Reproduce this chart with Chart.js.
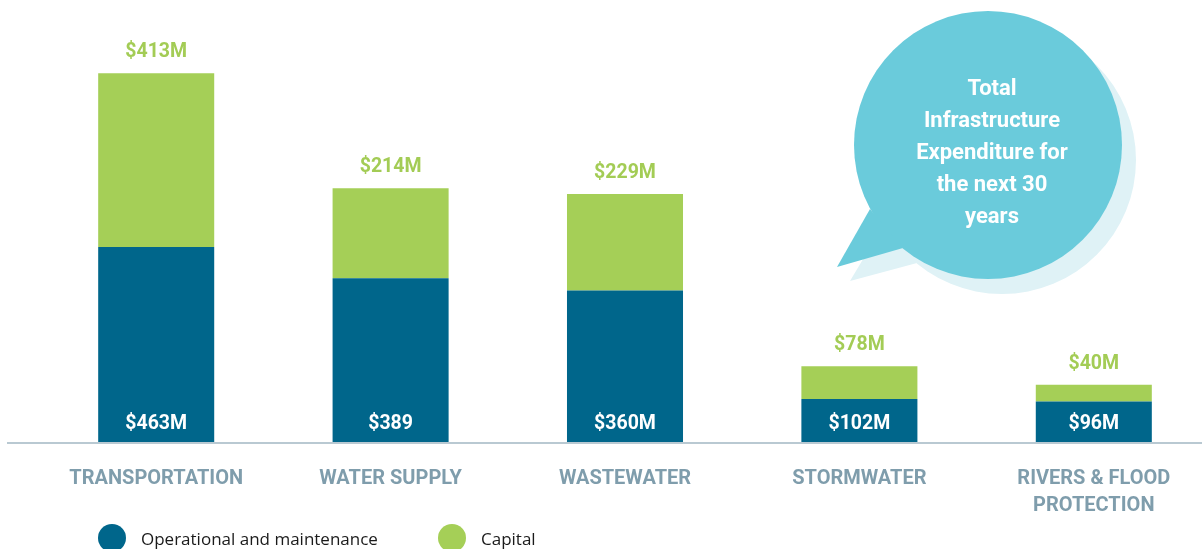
<!DOCTYPE html>
<html>
<head>
<meta charset="utf-8">
<script src="https://cdn.jsdelivr.net/npm/chart.js@4.4.0/dist/chart.umd.min.js"></script>
<style>
html,body{margin:0;padding:0;background:#fff;overflow:hidden;}
#wrap{width:1202px;height:549px;position:relative;overflow:hidden;}
</style>
</head>
<body>
<div id="wrap"><canvas id="c" width="1211" height="549"></canvas></div>
<script>
const categories = ['TRANSPORTATION', 'WATER SUPPLY', 'WASTEWATER', 'STORMWATER', ['RIVERS & FLOOD', 'PROTECTION']];
const operationalValues = [463, 389, 360, 102, 96];
const capitalValues = [413, 214, 229, 78, 40];
const operationalLabels = ['$463M', '$389', '$360M', '$102M', '$96M'];
const capitalLabels = ['$413M', '$214M', '$229M', '$78M', '$40M'];
const seriesNames = ['Operational and maintenance', 'Capital'];
const bubbleLines = ['Total', 'Infrastructure', 'Expenditure for', 'the next 30', 'years'];

const BLUE = '#00668b';
const GREEN = '#a5cf57';
const AXIS_TXT = '#7f9dac';

const decor = {
  id: 'decor',
  beforeDatasetsDraw(chart) {
    const ctx = chart.ctx;
    const y0 = chart.scales.y.getPixelForValue(0);
    ctx.save();
    ctx.strokeStyle = '#b9c9d2';
    ctx.lineWidth = 2;
    ctx.beginPath();
    ctx.moveTo(7, y0 + 1);
    ctx.lineTo(chart.width, y0 + 1);
    ctx.stroke();
    ctx.restore();
  },
  afterDatasetsDraw(chart) {
    const ctx = chart.ctx;
    const y = chart.scales.y;
    const m0 = chart.getDatasetMeta(0);
    const m1 = chart.getDatasetMeta(1);
    ctx.save();
    ctx.textAlign = 'center';
    ctx.textBaseline = 'middle';
    ctx.font = 'bold 19.5px Roboto';
    m0.data.forEach((bar, i) => {
      ctx.fillStyle = '#ffffff';
      ctx.fillText(operationalLabels[i], bar.x, y.getPixelForValue(0) - 18);
    });
    m1.data.forEach((bar, i) => {
      ctx.fillStyle = '#a3cc55';
      ctx.fillText(capitalLabels[i], bar.x, bar.y - 21);
    });

    // speech bubble
    const cx = 988, cy = 145, r = 134, dx = 14, dy = 15;
    ctx.fillStyle = '#dff2f6';
    ctx.beginPath();
    ctx.arc(cx + dx, cy + dy, r, 0, Math.PI * 2);
    ctx.fill();
    ctx.beginPath();
    ctx.moveTo(870 + dx, 209 + dy);
    ctx.lineTo(850, 281);
    ctx.lineTo(903 + dx, 248 + dy);
    ctx.closePath();
    ctx.fill();
    ctx.fillStyle = '#6acbdb';
    ctx.beginPath();
    ctx.arc(cx, cy, r, 0, Math.PI * 2);
    ctx.fill();
    ctx.beginPath();
    ctx.moveTo(870, 209);
    ctx.lineTo(837, 267);
    ctx.lineTo(903, 248);
    ctx.closePath();
    ctx.fill();
    ctx.fillStyle = '#ffffff';
    ctx.font = 'bold 22px Roboto';
    bubbleLines.forEach((t, i) => ctx.fillText(t, 992, 89 + i * 32));

    // legend
    ctx.textAlign = 'left';
    ctx.font = '17px "Open Sans"';
    const legendX = [112, 452];
    chart.data.datasets.forEach((ds, i) => {
      ctx.fillStyle = ds.backgroundColor;
      ctx.beginPath();
      ctx.arc(legendX[i], 538, 14, 0, Math.PI * 2);
      ctx.fill();
      ctx.fillStyle = '#1a1a1a';
      ctx.fillText(ds.label, legendX[i] + 29, 540);
    });
    ctx.restore();
  }
};

new Chart(document.getElementById('c'), {
  type: 'bar',
  data: {
    labels: categories,
    datasets: [
      { label: seriesNames[0], data: operationalValues, backgroundColor: BLUE },
      { label: seriesNames[1], data: capitalValues, backgroundColor: GREEN }
    ]
  },
  options: {
    responsive: false,
    animation: false,
    layout: { padding: { left: 39, right: 0, top: 0, bottom: 0 } },
    plugins: { legend: { display: false }, tooltip: { enabled: false } },
    datasets: { bar: { categoryPercentage: 1, barPercentage: 0.495 } },
    scales: {
      x: {
        stacked: true,
        offset: true,
        border: { display: false },
        grid: { display: false, drawTicks: false },
        ticks: { color: AXIS_TXT, font: { family: 'Roboto', weight: 'bold', size: 20, lineHeight: 1.35 }, padding: 23, maxRotation: 0, autoSkip: false },
        afterFit(s) { s.height = 107; }
      },
      y: {
        stacked: true,
        display: false,
        min: 0,
        max: 1050
      }
    }
  },
  plugins: [decor]
});
</script>
</body>
</html>
